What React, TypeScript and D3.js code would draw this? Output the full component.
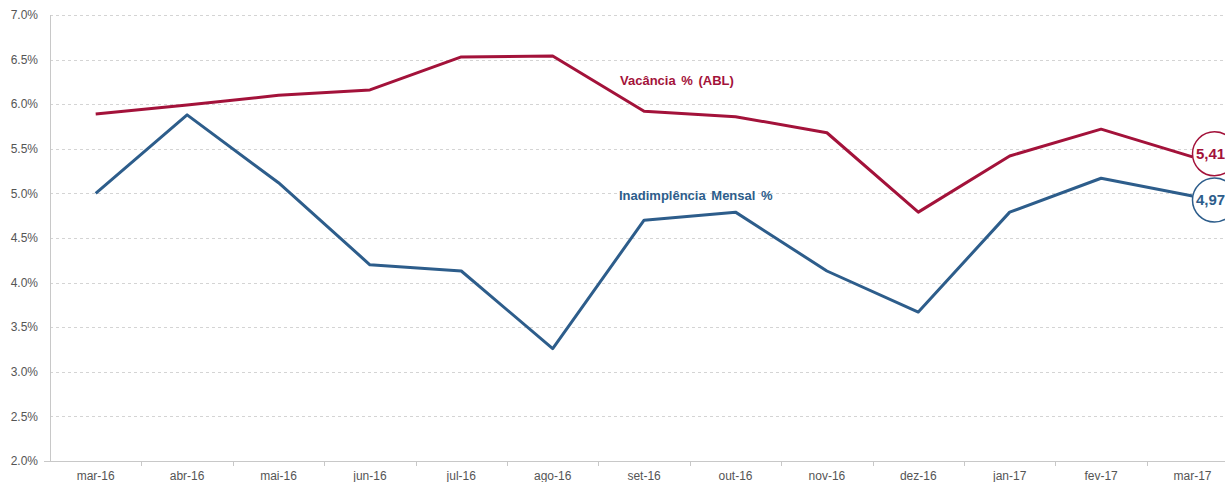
import React, { useEffect, useRef } from "react";
import * as d3 from "d3";

const months = ["mar-16", "abr-16", "mai-16", "jun-16", "jul-16", "ago-16", "set-16", "out-16", "nov-16", "dez-16", "jan-17", "fev-17", "mar-17"];
const vacancia = [5.89, 5.99, 6.1, 6.16, 6.53, 6.54, 5.92, 5.86, 5.68, 4.79, 5.42, 5.72, 5.41];
const inadimplencia = [5.0, 5.88, 5.12, 4.2, 4.13, 3.26, 4.7, 4.79, 4.13, 3.67, 4.79, 5.17, 4.97];
const yTicks = [2, 2.5, 3, 3.5, 4, 4.5, 5, 5.5, 6, 6.5, 7];

const RED = "#a3123a";
const BLUE = "#2d5d8b";
const FONT = "'Liberation Sans', Arial, Helvetica, sans-serif";

const App = () => {
  const svgRef = useRef<SVGSVGElement>(null);

  useEffect(() => {
    const svg = d3.select(svgRef.current);
    svg.selectAll("*").remove();

    const width = 1225;
    const left = 50;
    const top = 15;
    const bottom = 461;

    const x = d3.scaleBand().domain(months).range([left, left + 13 * 91.4]);
    const y = d3.scaleLinear().domain([2, 7]).range([bottom, top]);
    const cx = (m: string) => (x(m) as number) + x.bandwidth() / 2;

    // grid
    svg
      .append("g")
      .selectAll("line")
      .data(yTicks.filter((d) => d > 2))
      .enter()
      .append("line")
      .attr("x1", left)
      .attr("x2", width)
      .attr("y1", (d) => Math.round(y(d)) + 0.5)
      .attr("y2", (d) => Math.round(y(d)) + 0.5)
      .attr("stroke", "#d4d4d4")
      .attr("stroke-dasharray", "3,3");

    // y labels
    svg
      .append("g")
      .selectAll("text")
      .data(yTicks)
      .enter()
      .append("text")
      .attr("x", 38)
      .attr("y", (d) => y(d))
      .attr("dy", "0.35em")
      .attr("text-anchor", "end")
      .attr("font-size", 12)
      .attr("fill", "#555")
      .text((d) => d.toFixed(1) + "%");

    // axes lines
    svg.append("line").attr("x1", left + 0.5).attr("x2", left + 0.5).attr("y1", top).attr("y2", bottom)
      .attr("stroke", "#c8c8c8");
    svg.append("line").attr("x1", 44).attr("x2", width).attr("y1", bottom + 0.5).attr("y2", bottom + 0.5)
      .attr("stroke", "#c8c8c8");

    // x ticks at band boundaries
    svg
      .append("g")
      .selectAll("line")
      .data(months.slice(1))
      .enter()
      .append("line")
      .attr("x1", (d) => Math.round(x(d) as number) + 0.5)
      .attr("x2", (d) => Math.round(x(d) as number) + 0.5)
      .attr("y1", bottom)
      .attr("y2", bottom + 5)
      .attr("stroke", "#c8c8c8");

    svg
      .append("g")
      .selectAll("text")
      .data(months)
      .enter()
      .append("text")
      .attr("x", (d) => cx(d))
      .attr("y", 480)
      .attr("text-anchor", "middle")
      .attr("font-size", 12)
      .attr("fill", "#555")
      .text((d) => d);

    const line = d3
      .line<number>()
      .x((_, i) => cx(months[i]))
      .y((d) => y(d));

    svg.append("path").datum(vacancia).attr("d", line).attr("fill", "none")
      .attr("stroke", RED).attr("stroke-width", 3).attr("stroke-linejoin", "round");
    svg.append("path").datum(inadimplencia).attr("d", line).attr("fill", "none")
      .attr("stroke", BLUE).attr("stroke-width", 3).attr("stroke-linejoin", "round");

    // series labels
    svg.append("text").attr("x", 620).attr("y", 85).attr("font-size", 13).attr("font-weight", "bold")
      .attr("fill", RED).attr("word-spacing", 2).text("Vacância % (ABL)");
    svg.append("text").attr("x", 619).attr("y", 200).attr("font-size", 13).attr("font-weight", "bold")
      .attr("fill", BLUE).attr("word-spacing", 2).text("Inadimplência Mensal %");

    // end badges
    const last = months.length - 1;
    const badges = [
      { v: vacancia[last], c: RED, dy: -3 },
      { v: inadimplencia[last], c: BLUE, dy: 4 },
    ];
    badges.forEach((b) => {
      const bx = cx(months[last]) + 22;
      const by = y(b.v) + b.dy;
      svg.append("circle").attr("cx", bx).attr("cy", by).attr("r", 22)
        .attr("fill", "#fff").attr("stroke", b.c).attr("stroke-width", 1.5);
      svg.append("text").attr("x", bx - 4).attr("y", by).attr("dy", "0.35em")
        .attr("text-anchor", "middle").attr("font-size", 15).attr("font-weight", "bold")
        .attr("fill", b.c).text(b.v.toFixed(2).replace(".", ","));
    });
  }, []);

  return (
    <svg
      ref={svgRef}
      width={1225}
      height={482}
      style={{ position: "absolute", left: 0, top: 0, fontFamily: FONT }}
    />
  );
};

export default App;
